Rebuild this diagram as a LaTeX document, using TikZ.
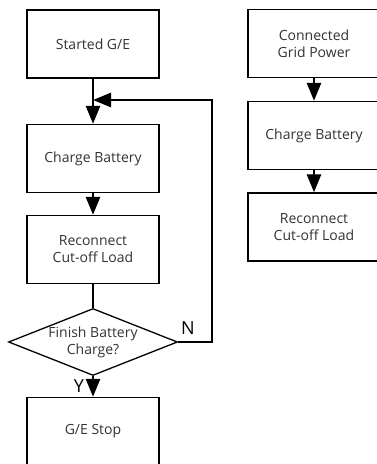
\documentclass[tikz,border=0pt]{standalone}
\usepackage{fontspec}
\setmainfont{Open Sans}
\usetikzlibrary{shapes.geometric, arrows.meta}

\tikzset{
  block/.style={draw, line width=1.3pt, minimum width=132pt, minimum height=68pt,
    align=center, text=black!80, font=\fontsize{14}{17}\selectfont},
  decision/.style={draw, diamond, line width=1.3pt, inner sep=0pt, aspect=2.52,
    minimum width=169pt, minimum height=67pt, align=center, text=black!80,
    font=\fontsize{14}{17}\selectfont},
  link/.style={line width=2.6pt},
  arrow/.style={link, -{Triangle[length=18pt, width=14pt]}},
  tag/.style={font=\fontsize{18}{20}\selectfont}
}

\begin{document}
\begin{tikzpicture}[x=1pt, y=-1pt]
  \useasboundingbox (0,0) rectangle (377,464);
  \clip (0,0) rectangle (377,464);

  % Left flow
  \node[block] (start)      at (93, 44)    {Started G/E};
  \node[block] (charge1)    at (93, 158.5) {Charge Battery};
  \node[block] (reconnect1) at (93, 249.5) {Reconnect\\Cut-off Load};
  \node[decision] (check)   at (93, 342)   {Finish Battery\\Charge?};
  \node[block] (stop)       at (93, 431.5) {G/E Stop};

  % Right flow
  \node[block] (grid)       at (314, 43.5) {Connected\\Grid Power};
  \node[block] (charge2)    at (314, 135.5){Charge Battery};
  \node[block] (reconnect2) at (314, 227)  {Reconnect\\Cut-off Load};

  % Loop points
  \coordinate (merge) at (93, 100);
  \coordinate (turn)  at (212, 342);

  % Connections
  \draw[arrow] (start) -- (charge1);
  \draw[arrow] (charge1) -- (reconnect1);
  \draw[link]  (reconnect1) -- (check);
  \draw[arrow] (check) -- (stop);
  \draw[arrow] (check.east) -- (turn) |- (merge);
  \draw[arrow] (grid) -- (charge2);
  \draw[arrow] (charge2) -- (reconnect2);

  % Labels
  \node[tag] (no)  at (188, 328) {N};
  \node[tag] (yes) at (79, 386)  {Y};
\end{tikzpicture}
\end{document}
